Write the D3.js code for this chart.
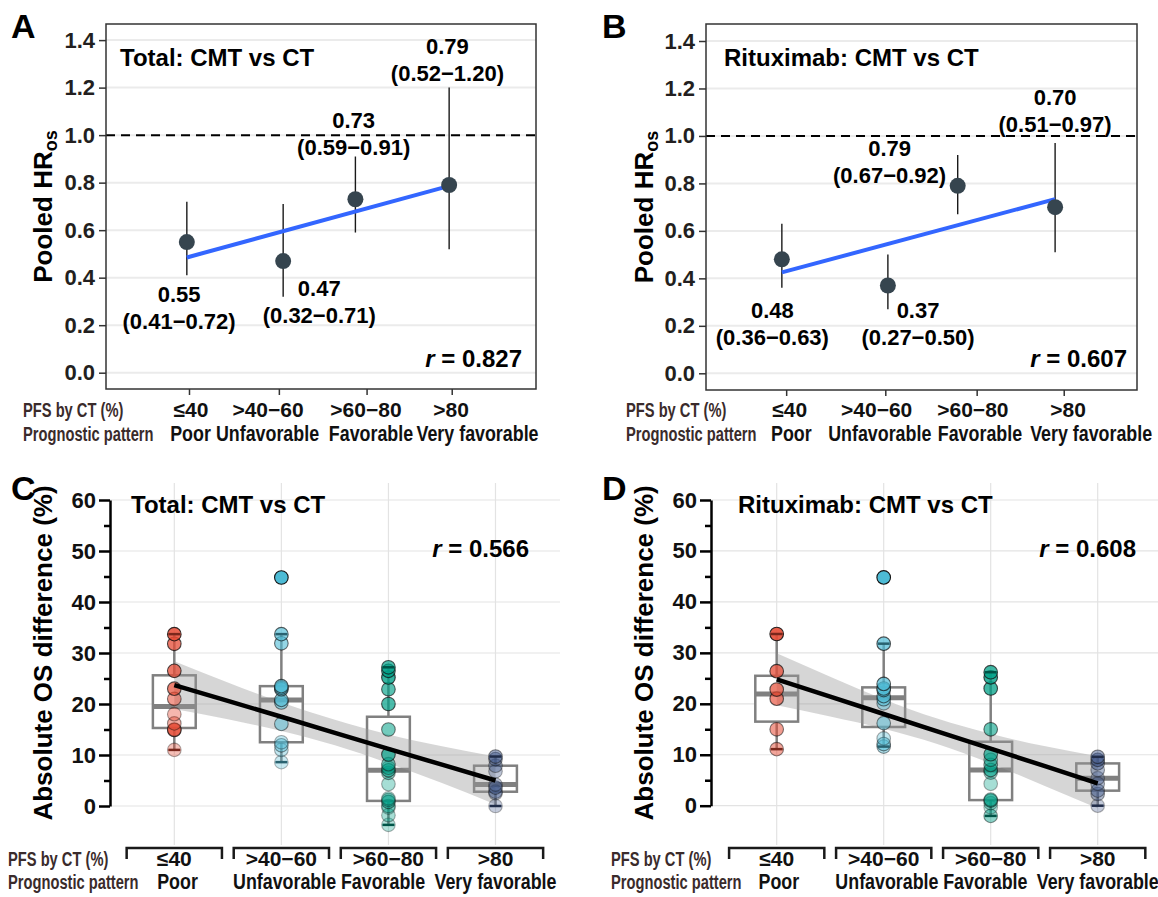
<!DOCTYPE html>
<html>
<head>
<meta charset="utf-8">
<script src="https://cdn.jsdelivr.net/npm/d3@7"></script>
<style>
  body { margin: 0; background: #fff; }
  svg { display: block; }
  text { font-family: "Liberation Sans", Arial, Helvetica, sans-serif; font-weight: bold; }
</style>
</head>
<body>
<svg id="fig" width="1158" height="897"></svg>
<script>
// ---- shared labels / ticks
const pfsLabels = ["≤40", ">40−60", ">60−80", ">80"];
const patternLabels = ["Poor", "Unfavorable", "Favorable", "Very favorable"];
const hrTicks = [0, 0.2, 0.4, 0.6, 0.8, 1.0, 1.2, 1.4];
const osTicks = [0, 10, 20, 30, 40, 50, 60];
const osMinorTicks = [5, 15, 25, 35, 45, 55];
const groupColors = ["#E64B35", "#4DBBD5", "#00A087", "#3C5488"];

// ---- A: pooled HR, total
const totalHr = [0.55, 0.47, 0.73, 0.79];
const totalHrLow = [0.41, 0.32, 0.59, 0.52];
const totalHrHigh = [0.72, 0.71, 0.91, 1.20];
const totalHrX = [0.94, 2.06, 2.90, 3.99];
const totalTickX = [0.965, 2.01, 3.03, 4.02];
const totalFitX = [0.94, 3.93];
const totalFitY = [0.485, 0.78];
const totalLabelX = [0.85, 2.48, 2.88, 3.97];
const totalLabelY = [0.297, 0.323, 1.03, 1.34];
const totalRow1X = [0.988, 1.884, 3.023, 4.012];
const totalRow2X = [0.983, 1.878, 3.081, 4.32];

// ---- B: pooled HR, rituximab
const ritHr = [0.48, 0.37, 0.79, 0.70];
const ritHrLow = [0.36, 0.27, 0.67, 0.51];
const ritHrHigh = [0.63, 0.50, 0.92, 0.97];
const ritHrX = [0.88, 2.11, 2.92, 4.05];
const ritTickX = [0.93, 2.08, 3.14, 4.15];
const ritFitX = [0.88, 4.05];
const ritFitY = [0.425, 0.734];
const ritLabelX = [0.77, 2.46, 2.13, 4.05];
const ritLabelY = [0.231, 0.231, 0.915, 1.132];
const ritRow1X = [0.971, 1.98, 3.096, 4.2];
const ritRow2X = [0.99, 2.016, 3.178, 4.468];

// ---- C: absolute OS difference, total (one array per PFS group)
const totalOsPoor = [11.0, 14.9, 15.0, 16.2, 18.0, 21.0, 23.0, 26.5, 31.8, 33.7];
const totalOsPoorW = [0.35, 0.75, 0.5, 0.45, 0.4, 0.55, 0.7, 0.75, 0.75, 0.85];
const totalOsUnfav = [8.6, 11.0, 11.9, 12.5, 16.1, 20.3, 20.8, 22.9, 23.2, 23.5, 31.9, 33.7, 44.8];
const totalOsUnfavW = [0.3, 0.35, 0.45, 0.35, 0.5, 0.55, 0.6, 0.7, 0.6, 0.65, 0.6, 0.65, 1.0];
const totalOsFav = [-3.7, -1.8, -0.3, 0.0, 0.8, 1.2, 1.5, 4.3, 6.5, 7.0, 7.5, 8.2, 10.1, 15.0, 20.0, 22.9, 25.2, 26.5, 27.2];
const totalOsFavW = [0.3, 0.35, 0.3, 0.35, 0.5, 0.4, 0.3, 0.35, 0.45, 0.6, 0.4, 0.5, 0.7, 0.55, 0.7, 0.65, 0.8, 0.75, 0.7];
const totalOsVery = [0.0, 2.5, 2.8, 3.6, 4.2, 6.8, 7.9, 9.2, 9.7];
const totalOsVeryW = [0.3, 0.35, 0.4, 0.45, 0.35, 0.35, 0.4, 0.45, 0.5];
const osFitX = [1, 1.5, 2, 2.5, 3, 3.5, 4];
const totalOsFit = [23.7, 20.6, 17.5, 14.35, 11.2, 8.1, 5.0];
const totalOsFitLow = [19.0, 17.0, 14.7, 11.9, 8.4, 4.5, 0.3];
const totalOsFitHigh = [28.4, 24.2, 20.3, 16.9, 14.0, 11.7, 9.7];

// ---- D: absolute OS difference, rituximab
const ritOsPoor = [11.1, 15.0, 21.0, 22.8, 26.4, 33.7];
const ritOsPoorW = [0.5, 0.55, 0.65, 0.7, 0.75, 0.9];
const ritOsUnfav = [11.6, 12.1, 13.2, 16.2, 20.1, 20.9, 21.5, 22.7, 23.0, 23.9, 31.8, 44.8];
const ritOsUnfavW = [0.45, 0.5, 0.35, 0.5, 0.45, 0.55, 0.6, 0.6, 0.65, 0.7, 0.7, 1.0];
const ritOsFav = [-2.0, -0.3, 0.5, 1.0, 1.2, 4.3, 6.5, 7.0, 8.0, 9.0, 10.1, 15.0, 23.0, 25.2, 26.2];
const ritOsFavW = [0.45, 0.3, 0.35, 0.55, 0.4, 0.35, 0.4, 0.6, 0.5, 0.45, 0.65, 0.6, 0.75, 0.8, 0.75];
const ritOsVery = [0.0, 2.3, 2.95, 4.3, 5.4, 7.0, 8.3, 9.0, 9.6];
const ritOsVeryW = [0.3, 0.4, 0.4, 0.4, 0.35, 0.4, 0.45, 0.5, 0.5];
const ritOsFit = [24.8, 21.4, 18.0, 14.6, 11.2, 7.8, 4.4];
const ritOsFitLow = [19.7, 17.5, 15.1, 12.1, 8.3, 3.9, -0.5];
const ritOsFitHigh = [29.9, 25.3, 20.9, 17.1, 14.1, 11.7, 9.7];

const svg = d3.select("#fig");
const INK = "#231f20";
const LABEL_INK = "#3a2b2b";

function squeezed(g, x, y, str, size, sx, anchor, fill) {
  return g.append("text")
    .attr("transform", `translate(${x},${y}) scale(${sx},1)`)
    .attr("text-anchor", anchor)
    .attr("font-size", size)
    .attr("fill", fill)
    .text(str);
}

function panelLetter(x, y, s) {
  svg.append("text").attr("x", x).attr("y", y).attr("font-size", 34).text(s);
}

function rText(g, x, y, val) {
  const t = g.append("text").attr("x", x).attr("y", y).attr("text-anchor", "end").attr("font-size", 24);
  t.append("tspan").attr("font-style", "italic").text("r");
  t.append("tspan").text(" = " + val);
}

function styleAxis(sel, size, fill) {
  sel.attr("font-size", null).attr("font-family", null);
  sel.selectAll("text").attr("font-size", size).attr("fill", fill);
}

// ---------- pooled HR panel ----------
function hrPanel(p) {
  const g = svg.append("g");
  const x = d3.scaleLinear().domain([0, 5]).range([p.left, p.right]);
  const y = d3.scaleLinear().domain([0, 1.4]).range([p.y0, p.y14]);

  g.selectAll(".grid").data(hrTicks).join("line")
    .attr("x1", p.left).attr("x2", p.right)
    .attr("y1", d => y(d)).attr("y2", d => y(d))
    .attr("stroke", "#ebebeb").attr("stroke-width", 2);

  g.append("line").attr("x1", p.left).attr("x2", p.right)
    .attr("y1", y(1)).attr("y2", y(1))
    .attr("stroke", "#000").attr("stroke-width", 2).attr("stroke-dasharray", "9,6");

  const ya = g.append("g").attr("transform", `translate(${p.left},0)`)
    .call(d3.axisLeft(y).tickValues(hrTicks).tickFormat(d3.format(".1f")).tickSize(7).tickPadding(4));
  ya.select(".domain").remove();
  ya.selectAll("line").attr("stroke", "#333").attr("stroke-width", 1.5);
  styleAxis(ya, 22, INK);

  const xa = g.append("g").attr("transform", `translate(0,${p.bottom})`)
    .call(d3.axisBottom(x).tickValues(p.tickX).tickFormat("").tickSize(6));
  xa.select(".domain").remove();
  xa.selectAll("line").attr("stroke", "#333").attr("stroke-width", 1.5);

  g.append("rect").attr("x", p.left).attr("y", p.top)
    .attr("width", p.right - p.left).attr("height", p.bottom - p.top)
    .attr("fill", "none").attr("stroke", "#333").attr("stroke-width", 1.5);

  const idx = d3.range(p.hr.length);
  g.selectAll(".err").data(idx).join("line")
    .attr("x1", i => x(p.px[i])).attr("x2", i => x(p.px[i]))
    .attr("y1", i => y(p.lo[i])).attr("y2", i => y(p.hi[i]))
    .attr("stroke", "#1a1a1a").attr("stroke-width", 1.4);

  g.append("line")
    .attr("x1", x(p.fitX[0])).attr("y1", y(p.fitY[0]))
    .attr("x2", x(p.fitX[1])).attr("y2", y(p.fitY[1]))
    .attr("stroke", "#3366FF").attr("stroke-width", 4);

  g.selectAll(".pt").data(idx).join("circle")
    .attr("cx", i => x(p.px[i])).attr("cy", i => y(p.hr[i])).attr("r", 8)
    .attr("fill", "#36454f");

  const f = d3.format(".2f");
  idx.forEach(i => {
    g.append("text").attr("x", x(p.labX[i])).attr("y", y(p.labY[i]))
      .attr("text-anchor", "middle").attr("font-size", 22).text(f(p.hr[i]));
    g.append("text").attr("x", x(p.labX[i])).attr("y", y(p.labY[i]) + 27)
      .attr("text-anchor", "middle").attr("font-size", 22)
      .text("(" + f(p.lo[i]) + "−" + f(p.hi[i]) + ")");
  });

  g.append("text").attr("x", p.titleX).attr("y", 66).attr("font-size", 24).text(p.title);
  rText(g, p.rX, 367, p.r);

  g.append("text")
    .attr("transform", `translate(${p.ytitleX},${(p.top + p.bottom) / 2}) rotate(-90)`)
    .attr("text-anchor", "middle").attr("font-size", 26)
    .text("Pooled HR")
    .append("tspan").attr("font-size", 18).attr("dy", 5).text("os");

  squeezed(g, p.rowLabelX, 417, p.pfsText, 21, 0.7, "start", LABEL_INK);
  squeezed(g, p.rowLabelX, 441, "Prognostic pattern", 21, 0.7, "start", LABEL_INK);
  pfsLabels.forEach((s, i) => squeezed(g, x(p.row1X[i]), 417, s, 21, 1, "middle", "#111"));
  patternLabels.forEach((s, i) => squeezed(g, x(p.row2X[i]), 441, s, 21.5, 0.83, "middle", "#111"));
}

// ---------- OS difference panel ----------
function osPanel(p) {
  const g = svg.append("g");
  const x = d3.scaleLinear().domain([1, 4]).range([p.x1, p.x4]);
  const y = d3.scaleLinear().domain([0, 60]).range([p.y0, p.y60]);

  g.selectAll(".hgrid").data(osTicks).join("line")
    .attr("x1", p.axisX).attr("x2", p.right)
    .attr("y1", d => y(d)).attr("y2", d => y(d))
    .attr("stroke", "#e3e3e3").attr("stroke-width", 1.2);
  g.selectAll(".vgrid").data([1, 2, 3, 4]).join("line")
    .attr("x1", d => x(d)).attr("x2", d => x(d))
    .attr("y1", p.gridTop).attr("y2", p.gridBottom)
    .attr("stroke", "#e3e3e3").attr("stroke-width", 1.2);

  const ya = g.append("g").attr("transform", `translate(${p.axisX},0)`)
    .call(d3.axisLeft(y).tickValues(osTicks).tickSize(11).tickSizeOuter(0).tickPadding(3));
  ya.select(".domain").attr("stroke", "#000").attr("stroke-width", 2.5);
  ya.selectAll("line").attr("stroke", "#000").attr("stroke-width", 2.5);
  styleAxis(ya, 22, "#111");
  const ym = g.append("g").attr("transform", `translate(${p.axisX},0)`)
    .call(d3.axisLeft(y).tickValues(osMinorTicks).tickFormat("").tickSize(6));
  ym.select(".domain").remove();
  ym.selectAll("line").attr("stroke", "#000").attr("stroke-width", 2.5);

  // boxplots
  const boxW = 0.4;
  p.groups.forEach((vals, gi) => {
    const s = vals.slice().sort(d3.ascending);
    const q1 = d3.quantile(s, 0.25), med = d3.quantile(s, 0.5), q3 = d3.quantile(s, 0.75);
    const iqr = q3 - q1;
    const lo = d3.min(s.filter(v => v >= q1 - 1.5 * iqr));
    const hi = d3.max(s.filter(v => v <= q3 + 1.5 * iqr));
    const cx = x(gi + 1);
    const bx = g.append("g").attr("stroke", "#808080").attr("stroke-width", 2.5);
    bx.append("line").attr("x1", cx).attr("x2", cx).attr("y1", y(q3)).attr("y2", y(hi));
    bx.append("line").attr("x1", cx).attr("x2", cx).attr("y1", y(q1)).attr("y2", y(lo));
    bx.append("rect").attr("x", x(gi + 1 - boxW / 2)).attr("y", y(q3))
      .attr("width", x(gi + 1 + boxW / 2) - x(gi + 1 - boxW / 2)).attr("height", y(q1) - y(q3))
      .attr("fill", "#fff");
    bx.append("line").attr("x1", x(gi + 1 - boxW / 2)).attr("x2", x(gi + 1 + boxW / 2))
      .attr("y1", y(med)).attr("y2", y(med)).attr("stroke-width", 5);
    p.caps.push({ gi, lo, hi });
  });

  // confidence band
  g.append("path")
    .datum(osFitX.map((d, i) => [d, p.fitLow[i], p.fitHigh[i]]))
    .attr("d", d3.area().x(d => x(d[0])).y0(d => y(d[1])).y1(d => y(d[2])).curve(d3.curveMonotoneX))
    .attr("fill", "#999").attr("fill-opacity", 0.4);

  // points
  p.groups.forEach((vals, gi) => {
    g.selectAll(null).data(vals).join("circle")
      .attr("cx", x(gi + 1)).attr("cy", d => y(d)).attr("r", 6.8)
      .attr("fill", groupColors[gi]).attr("fill-opacity", (d, i) => p.weights[gi][i])
      .attr("stroke", "#111").attr("stroke-opacity", (d, i) => p.weights[gi][i]).attr("stroke-width", 1.1);
  });

  // whisker end marks
  p.caps.forEach(c => {
    const col = d3.color(groupColors[c.gi]).darker(1.8);
    [c.lo, c.hi].forEach(v => {
      g.append("line").attr("x1", x(c.gi + 1) - 6).attr("x2", x(c.gi + 1) + 6)
        .attr("y1", y(v)).attr("y2", y(v)).attr("stroke", col).attr("stroke-width", 2.5);
    });
  });

  // regression line
  g.append("path")
    .datum(osFitX.map((d, i) => [d, p.fit[i]]))
    .attr("d", d3.line().x(d => x(d[0])).y(d => y(d[1])))
    .attr("fill", "none").attr("stroke", "#000").attr("stroke-width", 4.5);

  g.append("text").attr("x", p.titleX).attr("y", 513).attr("font-size", 24).text(p.title);
  rText(g, p.rX, 557, p.r);

  g.append("text")
    .attr("transform", `translate(${p.ytitleX},${(p.y0 + p.y60) / 2}) rotate(-90)`)
    .attr("text-anchor", "middle").attr("font-size", 26)
    .text("Absolute OS difference (%)");

  // category brackets
  [1, 2, 3, 4].forEach(c => {
    const a = x(c - 0.445), b = x(c + 0.445);
    g.append("path").attr("d", `M${a},859V848H${b}V859`)
      .attr("fill", "none").attr("stroke", "#1a1a1a").attr("stroke-width", 2.5);
  });
  squeezed(g, p.rowLabelX, 866, "PFS by CT  (%)", 21, 0.7, "start", LABEL_INK);
  squeezed(g, p.rowLabelX, 889, "Prognostic pattern", 21, 0.7, "start", LABEL_INK);
  pfsLabels.forEach((s, i) => squeezed(g, x(i + 1), 866, s, 21, 1, "middle", "#111"));
  patternLabels.forEach((s, i) => squeezed(g, x(i + 1 + p.row2Shift[i]), 889, s, 21.5, 0.83, "middle", "#111"));
}

hrPanel({
  left: 106, right: 536, top: 24, bottom: 389, y0: 372.7, y14: 40.1,
  hr: totalHr, lo: totalHrLow, hi: totalHrHigh, px: totalHrX, tickX: totalTickX,
  fitX: totalFitX, fitY: totalFitY, labX: totalLabelX, labY: totalLabelY,
  row1X: totalRow1X, row2X: totalRow2X,
  title: "Total: CMT vs CT", titleX: 120, r: "0.827", rX: 522,
  ytitleX: 52, rowLabelX: 23, pfsText: "PFS by CT (%)"
});

hrPanel({
  left: 706, right: 1137, top: 24, bottom: 390, y0: 373.3, y14: 41,
  hr: ritHr, lo: ritHrLow, hi: ritHrHigh, px: ritHrX, tickX: ritTickX,
  fitX: ritFitX, fitY: ritFitY, labX: ritLabelX, labY: ritLabelY,
  row1X: ritRow1X, row2X: ritRow2X,
  title: "Rituximab: CMT vs CT", titleX: 724, r: "0.607", rX: 1127,
  ytitleX: 653, rowLabelX: 626, pfsText: "PFS by CT  (%)"
});

osPanel({
  x1: 174.3, x4: 495.5, y0: 806, y60: 500, axisX: 110, right: 560,
  gridTop: 483, gridBottom: 845,
  groups: [totalOsPoor, totalOsUnfav, totalOsFav, totalOsVery],
  weights: [totalOsPoorW, totalOsUnfavW, totalOsFavW, totalOsVeryW],
  fit: totalOsFit, fitLow: totalOsFitLow, fitHigh: totalOsFitHigh, caps: [],
  title: "Total: CMT vs CT", titleX: 131, r: "0.566", rX: 529,
  ytitleX: 52, rowLabelX: 8, row2Shift: [0.03, 0.03, -0.05, 0]
});

osPanel({
  x1: 776.7, x4: 1097.7, y0: 805.7, y60: 500, axisX: 711, right: 1158,
  gridTop: 483, gridBottom: 845,
  groups: [ritOsPoor, ritOsUnfav, ritOsFav, ritOsVery],
  weights: [ritOsPoorW, ritOsUnfavW, ritOsFavW, ritOsVeryW],
  fit: ritOsFit, fitLow: ritOsFitLow, fitHigh: ritOsFitHigh, caps: [],
  title: "Rituximab: CMT vs CT", titleX: 738, r: "0.608", rX: 1136,
  ytitleX: 653, rowLabelX: 611, row2Shift: [0.02, 0.03, -0.05, 0]
});

panelLetter(11, 38, "A");
panelLetter(602, 38, "B");
panelLetter(11, 500, "C");
panelLetter(602, 500, "D");
</script>
</body>
</html>
